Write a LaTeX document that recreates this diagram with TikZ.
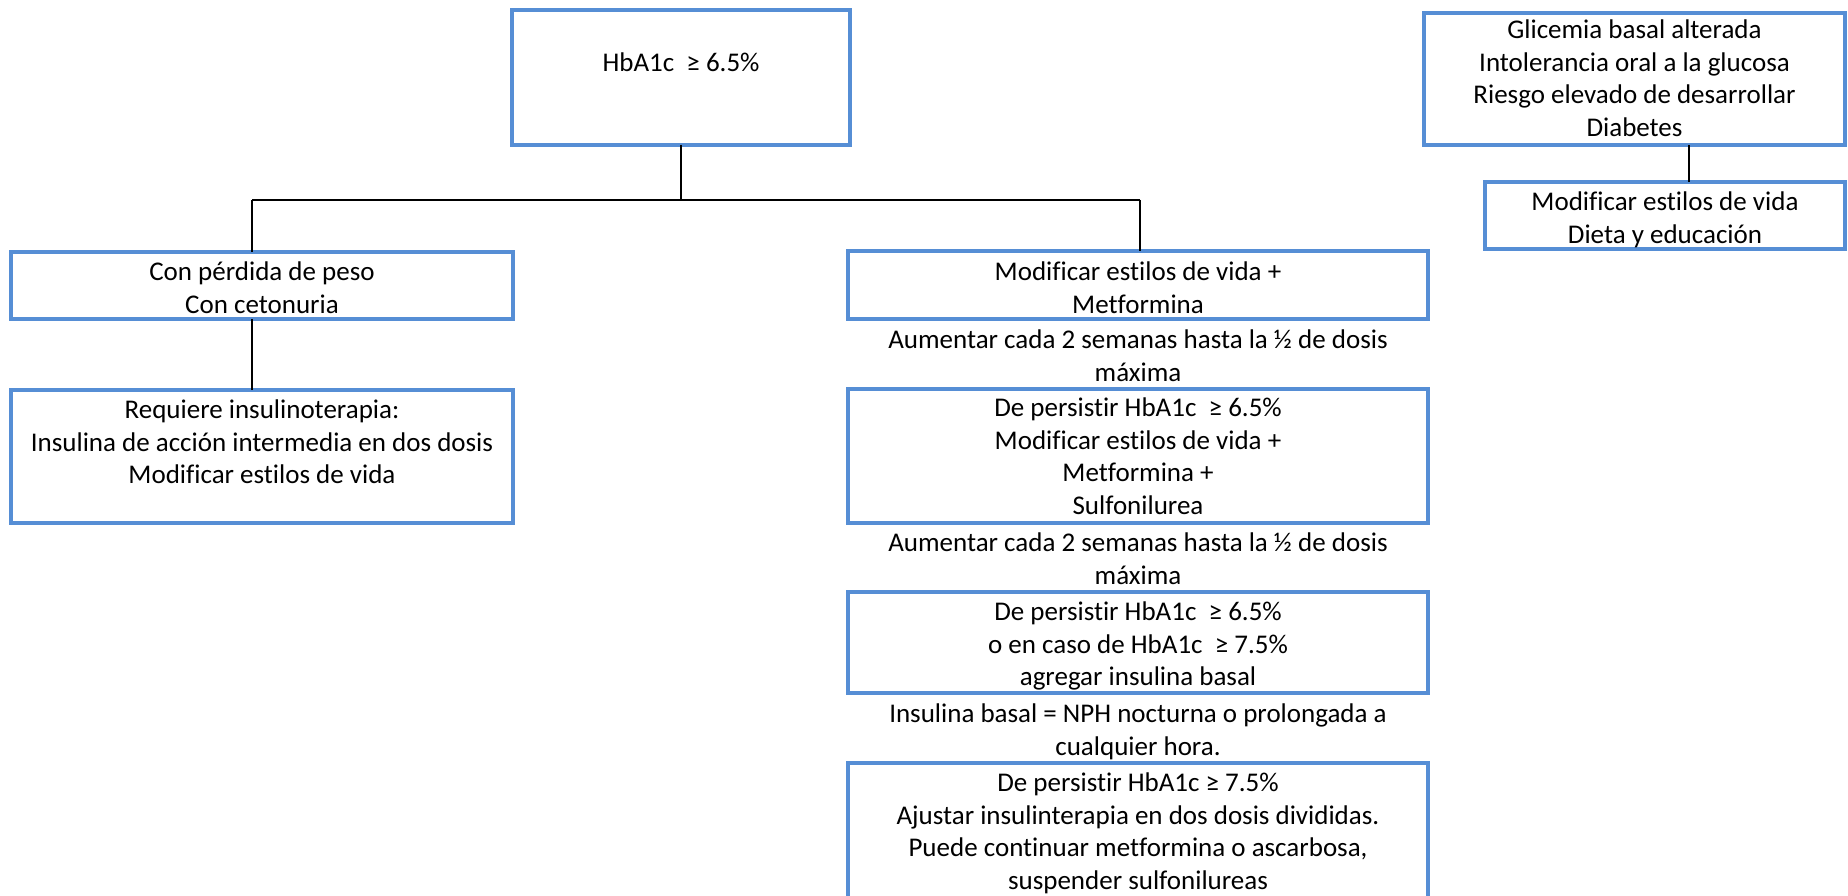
\documentclass[tikz,border=0pt]{standalone}
\usepackage{fontspec}
\setmainfont{Carlito}[Ligatures=NoCommon]
\definecolor{boxblue}{RGB}{86,142,213}
\begin{document}
\begin{tikzpicture}[x=1pt,y=-1pt,
  box/.style={draw=boxblue,line width=4pt,rectangle,inner sep=0pt,outer sep=0pt,anchor=north west},
  txt/.style={anchor=north,inner sep=0pt,align=center,font=\fontsize{27}{32.5}\selectfont},
  link/.style={draw=black,line width=1.8pt}]
\useasboundingbox (0,0) rectangle (1848,896);
\clip (0,0) rectangle (1848,896);
\fill[white] (0,0) rectangle (1848,896);

% boxes: top-left corner, width and height
\node[box,minimum width=338,minimum height=135] (top) at (512,10) {};
\node[box,minimum width=421,minimum height=132] (gtop) at (1424,13) {};
\node[box,minimum width=360,minimum height=67] (gbot) at (1485,182) {};
\node[box,minimum width=502,minimum height=67] (lb1) at (11,252) {};
\node[box,minimum width=502,minimum height=133] (lb2) at (11,390) {};
\node[box,minimum width=580,minimum height=68] (rb1) at (848,251) {};
\node[box,minimum width=580,minimum height=134] (rb2) at (848,389) {};
\node[box,minimum width=580,minimum height=101] (rb3) at (848,592) {};
\node[box,minimum width=580,minimum height=170] (rb4) at (848,763) {};

% texts (first baseline 22.75 below the anchor)
\node[txt] (ttop) at (681,48.75) {\strut HbA1c\ \ ≥ 6.5\%};
\node[txt] (tgtop) at (1634.5,15.75) {\strut Glicemia basal alterada\\Intolerancia oral a la glucosa\\Riesgo elevado de desarrollar\\Diabetes};
\node[txt] (tgbot) at (1665,187.75) {\strut Modificar estilos de vida\\Dieta y educación};
\node[txt] (tlb1) at (262,257.75) {\strut Con pérdida de peso\\Con cetonuria};
\node[txt] (tlb2) at (262,395.75) {\strut Requiere insulinoterapia:\\Insulina de acción intermedia en dos dosis\\Modificar estilos de vida};
\node[txt] (trb1) at (1138,257.75) {\strut Modificar estilos de vida +\\Metformina};
\node[txt] (tn1) at (1138,325.75) {\strut Aumentar cada 2 semanas hasta la ½ de dosis\\máxima};
\node[txt] (trb2) at (1138,393.75) {\strut De persistir HbA1c\ \ ≥ 6.5\%\\Modificar estilos de vida +\\Metformina +\\Sulfonilurea};
\node[txt] (tn2) at (1138,528.75) {\strut Aumentar cada 2 semanas hasta la ½ de dosis\\máxima};
\node[txt] (trb3) at (1138,597.75) {\strut De persistir HbA1c\ \ ≥ 6.5\%\\o en caso de HbA1c\ \ ≥ 7.5\%\\agregar insulina basal};
\node[txt] (tn3) at (1138,699.75) {\strut Insulina basal = NPH nocturna o prolongada a\\cualquier hora.};
\node[txt] (trb4) at (1138,768.75) {\strut De persistir HbA1c ≥ 7.5\%\\Ajustar insulinterapia en dos dosis divididas.\\Puede continuar metformina o ascarbosa,\\suspender sulfonilureas};

% connectors
\coordinate (jl) at (252,200);
\coordinate (jr) at (1140,200);
\coordinate (jg) at (1689,0);
\draw[link] (top.south) -- (top.south |- jl);
\draw[link] (jl) -- (jr);
\draw[link] (jl) -- (jl |- lb1.north);
\draw[link] (jr) -- (jr |- rb1.north);
\draw[link] (jl |- lb1.south) -- (jl |- lb2.north);
\draw[link] (jg |- gtop.south) -- (jg |- gbot.north);
\end{tikzpicture}
\end{document}
